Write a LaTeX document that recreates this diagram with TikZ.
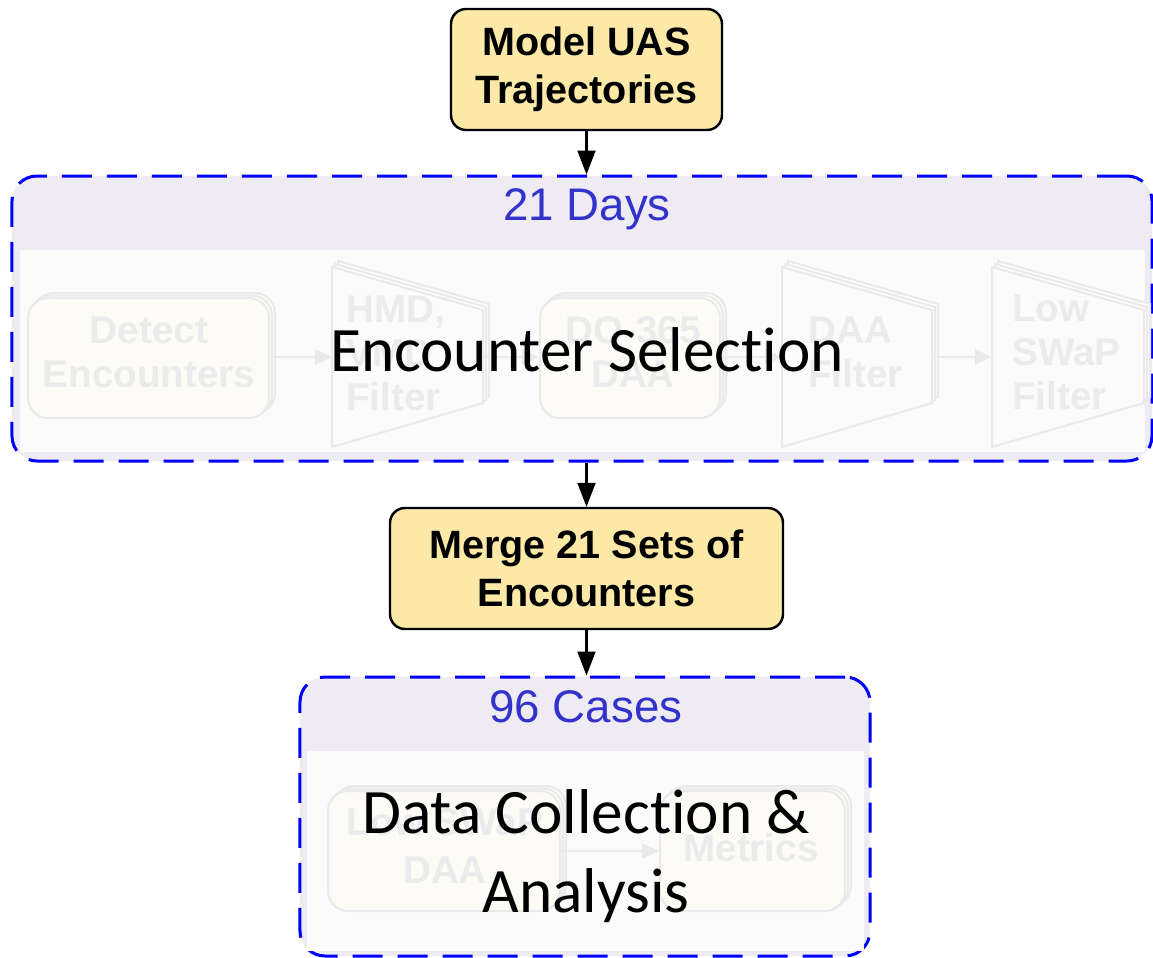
\documentclass[tikz,border=0pt]{standalone}
\usepackage{fontspec}
\setmainfont{Liberation Sans}
\newfontfamily\calibri[Ligatures={NoCommon,NoRare,NoDiscretionary},Contextuals=NoAlternate]{Carlito}
\usetikzlibrary{arrows.meta,positioning,shadows}
\definecolor{boxyellow}{HTML}{FDE9A7}
\definecolor{bandgray}{HTML}{EFEBF2}
\definecolor{bodygray}{HTML}{FBFBFB}
\definecolor{daysblue}{HTML}{3333CC}
\definecolor{ghostline}{HTML}{EAEAEA}
\definecolor{ghostfill}{HTML}{FCFBF6}
\definecolor{ghosttext}{HTML}{EBEBEB}
\tikzset{
  stepbox/.style={draw=black, line width=1.4pt, fill=boxyellow, rounded corners=3mm,
    align=center, font=\fontsize{22.5}{27.5}\selectfont\bfseries, minimum height=24.2mm, inner sep=0pt},
  group/.style={draw=blue, line width=0.6mm, dash pattern=on 6mm off 3mm, fill=bandgray,
    rounded corners=5mm, inner sep=0pt},
  grouptitle/.style={text=daysblue, font=\fontsize{26}{30}\selectfont, inner sep=0pt},
  bigtext/.style={font=\calibri\fontsize{36}{45}\selectfont, align=center, inner sep=0pt},
  flow/.style={-{Triangle[length=4.8mm,width=3.6mm]}, line width=1.2pt},
  ghost/.style={draw=ghostline, line width=0.4mm, fill=ghostfill},
  ghostbox/.style={ghost, rounded corners=4mm, minimum height=24mm,
    double copy shadow={shadow xshift=0.6mm, shadow yshift=0.5mm, draw=ghostline, fill=ghostfill}},
  ghostlabel/.style={text=ghosttext, font=\fontsize{22}{25}\selectfont\bfseries, align=center, inner sep=0pt},
  ghostarrow/.style={draw=ghostline, line width=0.4mm, -{Triangle[length=3.4mm,width=3mm]}}
}
\begin{document}
\begin{tikzpicture}[x=0.2mm,y=-0.2mm]
\useasboundingbox (0,0) rectangle (1153,958);
% first step
\node[stepbox, minimum width=54.2mm] (model) at (586.5,69.5) {Model UAS\\Trajectories};

% encounter selection group
\node[group, minimum width=228mm, minimum height=57mm] (days) at (582,318.5) {};
\fill[bodygray] (20,250) rectangle (1145,452);
\node[grouptitle] (daystitle) at (587,209) {21 Days};
\node[ghostbox, minimum width=48.2mm] (detect) at (148.5,358) {};
\node[ghostlabel] at (149,352) {Detect\\Encounters};
\node[ghostbox, minimum width=36mm] (do365) at (630,358) {};
\node[ghostlabel] at (633,352) {DO-365\\DAA};
\foreach \xa/\xb/\nm in {332/483/hmd, 782/932/daaf, 992/1144/swap} {
  \foreach \s in {6,3,0}
    \draw[ghost, fill=bodygray] (\xa+\s,267-\s) -- (\xb+\s,310-\s) -- (\xb+\s,403-\s) -- (\xa+\s,447-\s) -- cycle;
  \coordinate (\nm-in) at (\xa,357);
  \coordinate (\nm-out) at (\xb,357);
}
\node[ghostlabel, align=left, anchor=west] at (346,353) {HMD,\\VMD\\Filter};
\node[ghostlabel, align=left, anchor=west] at (808,352) {DAA\\Filter};
\node[ghostlabel, align=left, anchor=west] at (1012,352) {Low\\SWaP\\Filter};
\draw[ghostarrow] (detect.east |- hmd-in) -- (hmd-in);
\draw[ghostarrow] (hmd-out) -- (do365.west |- hmd-out);
\draw[ghostarrow] (do365.east |- daaf-in) -- (daaf-in);
\draw[ghostarrow] (daaf-out) -- (swap-in);
\node[bigtext] (selection) at (587,350) {Encounter Selec\kern0pt tion};

% merge step
\node[stepbox, minimum width=78.6mm] (merge) at (586.5,568.5) {Merge 21 Sets of\\Encounters};

% data collection group
\node[group, minimum width=114mm, minimum height=55.8mm] (cases) at (585,816.5) {};
\fill[bodygray] (307,751) rectangle (864,951);
\node[grouptitle] (casestitle) at (586,707) {96 Cases};
\node[ghostbox, minimum width=46.4mm] (lowswap) at (444,851) {};
\node[ghostlabel, font=\fontsize{22}{27}\selectfont\bfseries] at (445,846) {Low SWaP\\DAA};
\node[ghostbox, minimum width=37mm] (metrics) at (752.5,851) {};
\node[ghostlabel] at (751,848) {Metrics};
\draw[ghostarrow] (lowswap) -- (metrics);
\node[bigtext] (analysis) at (586,856) {Data Collec\kern0pt tion \&\\Analysis};

% connectors
\draw[flow] (model.south) -- (model.south |- days.north);
\draw[flow] (merge.north |- days.south) -- (merge.north);
\draw[flow] (merge.south) -- (merge.south |- cases.north);
\end{tikzpicture}
\end{document}
